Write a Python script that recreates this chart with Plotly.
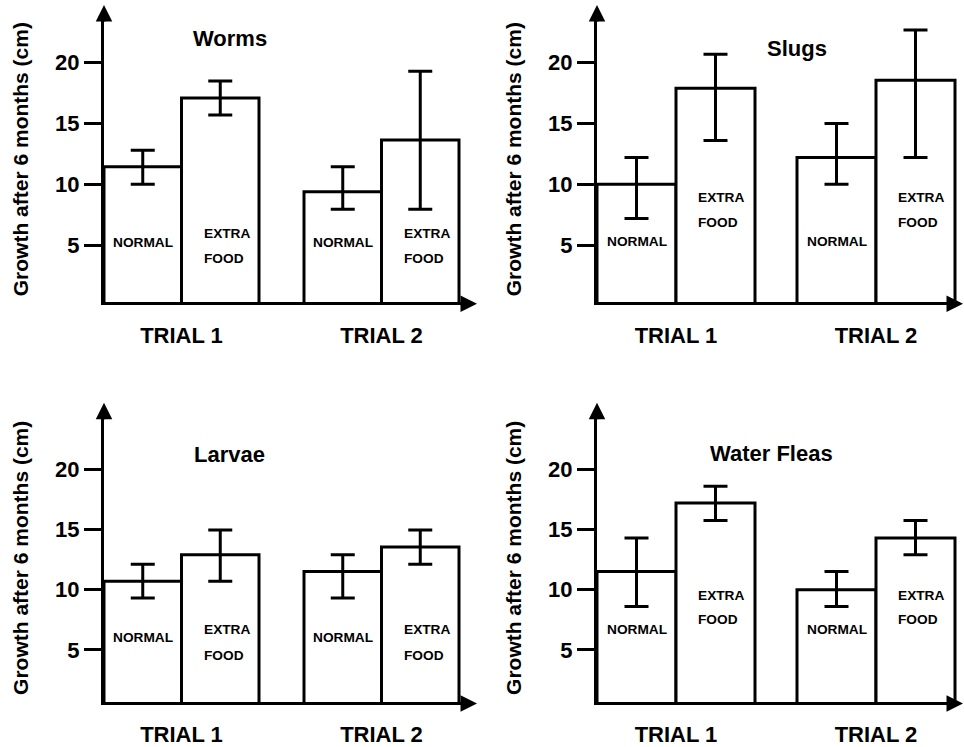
import plotly.graph_objects as go

# ── Data ───────────────────────────────────────────────────────────────────
trials = ["TRIAL 1", "TRIAL 2"]
animals = ["Worms", "Slugs", "Larvae", "Water Fleas"]

# one row per animal, one value per trial (cm)
normal_mean = [[11.45, 9.4], [10.0, 12.2], [10.7, 11.5], [11.5, 10.0]]
normal_upper = [[12.8, 11.45], [12.2, 15.0], [12.1, 12.9], [14.3, 11.5]]
normal_lower = [[10.0, 7.95], [7.2, 10.0], [9.3, 9.3], [8.6, 8.6]]

extra_mean = [[17.1, 13.65], [17.9, 18.55], [12.9, 13.55], [17.2, 14.3]]
extra_upper = [[18.5, 19.3], [20.7, 22.7], [14.95, 14.95], [18.6, 15.75]]
extra_lower = [[15.7, 7.95], [13.6, 12.2], [10.7, 12.1], [15.75, 12.9]]

yticks = [5, 10, 15, 20]

# ── Layout geometry (pixels) ───────────────────────────────────────────────
W, H = 964, 747
FONT = "Liberation Sans, Arial, sans-serif"
UNIT = 200  # px between trial groups

PANELS = [
    dict(axis_x=104, right=466, center=181.5, bar=77.5, base=304, top=16, tip=5,
         y_lo=0.3, ppu=12.23, x_tip=477, title=(0.24, 22.0), lab=(5.26, 6.0, 3.9)),
    dict(axis_x=597, right=960, center=676, bar=79, base=304, top=16, tip=5,
         y_lo=0.3, ppu=12.23, x_tip=972, title=(0.605, 21.15), lab=(5.29, 8.9, 6.84)),
    dict(axis_x=104, right=466, center=181.5, bar=77.5, base=705.7, top=416, tip=405,
         y_lo=0.67, ppu=12.1, x_tip=477, title=(0.24, 21.25), lab=(6.04, 6.68, 4.53)),
    dict(axis_x=597, right=960, center=676, bar=79, base=705.7, top=416, tip=405,
         y_lo=0.67, ppu=12.1, x_tip=972, title=(0.475, 21.3), lab=(6.68, 9.49, 7.5)),
]

fig = go.Figure()

for i, p in enumerate(PANELS):
    xa = "x" if i == 0 else f"x{i + 1}"
    ya = "y" if i == 0 else f"y{i + 1}"
    bw = p["bar"] / UNIT

    series = [
        (normal_mean[i], normal_upper[i], normal_lower[i], -bw),
        (extra_mean[i], extra_upper[i], extra_lower[i], 0),
    ]
    for mean, upper, lower, off in series:
        fig.add_trace(go.Bar(
            x=trials, y=mean, width=bw, offset=off,
            marker=dict(color="white", line=dict(color="black", width=3)),
            error_y=dict(
                type="data", symmetric=False,
                array=[u - m for u, m in zip(upper, mean)],
                arrayminus=[m - l for m, l in zip(mean, lower)],
                color="black", thickness=3, width=12,
            ),
            xaxis=xa, yaxis=ya, showlegend=False, hoverinfo="skip",
        ))

    # axes
    xkey = "xaxis" if i == 0 else f"xaxis{i + 1}"
    ykey = "yaxis" if i == 0 else f"yaxis{i + 1}"
    y_hi = p["y_lo"] + (p["base"] - p["top"]) / p["ppu"]
    fig.update_layout({
        xkey: dict(
            domain=[p["axis_x"] / W, p["right"] / W], anchor=ya,
            type="category",
            range=[(p["axis_x"] - p["center"]) / UNIT, (p["right"] - p["center"]) / UNIT],
            showline=True, linecolor="black", linewidth=3, mirror=False,
            showgrid=False, zeroline=False,
            ticks="outside", ticklen=11, tickcolor="rgba(0,0,0,0)",
            tickfont=dict(family=FONT, size=22, color="black", weight="bold"),
            fixedrange=True,
        ),
        ykey: dict(
            domain=[1 - p["base"] / H, 1 - p["top"] / H], anchor=xa,
            range=[p["y_lo"], y_hi],
            tickvals=yticks,
            showline=True, linecolor="black", linewidth=3,
            showgrid=False, zeroline=False,
            ticks="outside", ticklen=17, tickwidth=3, tickcolor="black",
            tickfont=dict(family=FONT, size=22, color="black", weight="bold"),
            title=dict(text="Growth after 6 months (cm)", standoff=21,
                       font=dict(family=FONT, size=21, color="black", weight="bold")),
            fixedrange=True,
        ),
    })

    # panel title
    fig.add_annotation(
        text=animals[i], x=p["title"][0], y=p["title"][1], xref=xa, yref=ya,
        showarrow=False, font=dict(family=FONT, size=22, color="black", weight="bold"),
    )

    # labels inside the bars
    lab_font = dict(family=FONT, size=13.7, color="black", weight="bold")
    for t in range(len(trials)):
        fig.add_annotation(text="NORMAL", x=t - bw / 2, y=p["lab"][0], xref=xa, yref=ya,
                           showarrow=False, font=lab_font)
        fig.add_annotation(text="EXTRA", x=t + 0.1, y=p["lab"][1], xref=xa, yref=ya,
                           xanchor="left", showarrow=False, font=lab_font)
        fig.add_annotation(text="FOOD", x=t + 0.1, y=p["lab"][2], xref=xa, yref=ya,
                           xanchor="left", showarrow=False, font=lab_font)

    # arrowheads on the axes
    fig.add_annotation(
        text="", x=p["axis_x"] / W, y=1 - p["tip"] / H, xref="paper", yref="paper",
        ax=0, ay=18, showarrow=True, arrowhead=2, arrowsize=1.1, arrowwidth=3,
        arrowcolor="black",
    )
    fig.add_annotation(
        text="", x=p["x_tip"] / W, y=1 - (p["base"] + 1.5) / H, xref="paper", yref="paper",
        ax=-18, ay=0, showarrow=True, arrowhead=2, arrowsize=1.1, arrowwidth=3,
        arrowcolor="black",
    )

fig.update_layout(
    width=W, height=H,
    margin=dict(l=0, r=0, t=0, b=0),
    paper_bgcolor="white", plot_bgcolor="white",
    barmode="overlay",
    font=dict(family=FONT, color="black"),
    showlegend=False,
)

fig.write_html(
    "out.html",
    config={"displayModeBar": False},
    post_script="document.body.style.margin='0';document.body.style.overflow='hidden';",
)
